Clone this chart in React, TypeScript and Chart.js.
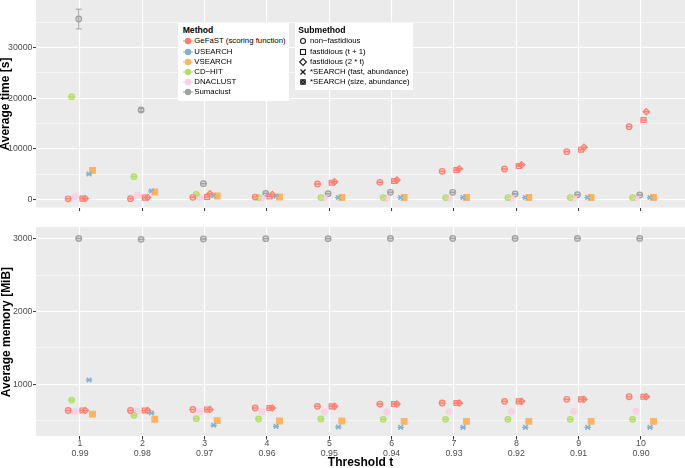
import React, { useEffect, useRef } from "react";
import { Chart, registerables } from "chart.js";
Chart.register(...registerables);

// ---------------- data ----------------
const categories = [1, 2, 3, 4, 5, 6, 7, 8, 9, 10];
const thresholds = ["0.99", "0.98", "0.97", "0.96", "0.95", "0.94", "0.93", "0.92", "0.91", "0.90"];

const timeTicks = [0, 10000, 20000, 30000];
const timeMinorTicks = [5000, 15000, 25000, 35000];
const memTicks = [1000, 2000, 3000];
const memMinorTicks = [500, 1500, 2500];

// Average time [s]
const gefastTimeNF = [100, 120, 395, 450, 3020, 3360, 5530, 5990, 9410, 14350];
const gefastTimeT1 = [120, 320, 450, 550, 3280, 3620, 5790, 6580, 9800, 15670];
const gefastTime2t = [150, 350, 1100, 950, 3480, 3810, 6050, 6840, 10270, 17310];
const cdhitTime = [20280, 4470, 950, 350, 350, 350, 350, 350, 350, 350];
const dnaclustTime = [520, 850, 390, 250, 250, 200, 200, 200, 200, 200];
const sumaclustTime = [35630, 17650, 3085, 1180, 1110, 1380, 1380, 1050, 900, 850];
const sumaclustTimeErr = [1950, 300, 0, 0, 0, 0, 0, 0, 0, 0];
const usearchTime = [5000, 1640, 710, 600, 350, 350, 350, 350, 350, 350];
const vsearchTime = [5730, 1440, 650, 450, 350, 350, 350, 350, 350, 350];

// Average memory [MiB]
const gefastMemNF = [640, 640, 654, 674, 697, 729, 743, 766, 794, 829];
const gefastMemT1 = [640, 640, 654, 674, 697, 729, 743, 766, 794, 829];
const gefastMem2t = [640, 640, 654, 674, 697, 729, 743, 766, 794, 829];
const cdhitMem = [784, 574, 527, 523, 523, 519, 519, 519, 519, 519];
const dnaclustMem = [627, 627, 627, 623, 620, 619, 623, 623, 628, 628];
const sumaclustMem = [3008, 2995, 3000, 3005, 3005, 3008, 3008, 3008, 3008, 3008];
const usearchMem = [1059, 605, 436, 422, 413, 408, 408, 408, 408, 408];
const vsearchMem = [591, 519, 500, 495, 495, 491, 491, 491, 491, 491];

const methodNames = ["GeFaST (scoring function)", "USEARCH", "VSEARCH", "CD\u2212HIT", "DNACLUST", "Sumaclust"];
const submethodNames = [
  "non\u2212fastidious",
  "fastidious (t + 1)",
  "fastidious (2 * t)",
  "*SEARCH (fast, abundance)",
  "*SEARCH (size, abundance)",
];

// ---------------- styles ----------------
const COLORS: Record<string, string> = {
  gefast: "#FB8072",
  usearch: "#80B1D3",
  vsearch: "#FDB462",
  cdhit: "#B3DE69",
  dnaclust: "#FCCDE5",
  sumaclust: "#A0A0A0",
};
const methodColors = [COLORS.gefast, COLORS.usearch, COLORS.vsearch, COLORS.cdhit, COLORS.dnaclust, COLORS.sumaclust];

type SeriesDef = {
  key: string;
  color: string;
  shape: string;
  offset: number;
  time: number[];
  mem: number[];
  timeErr?: number[];
};

const seriesDefs: SeriesDef[] = [
  { key: "gefast-nf", color: COLORS.gefast, shape: "circle", offset: -0.19, time: gefastTimeNF, mem: gefastMemNF },
  { key: "cdhit", color: COLORS.cdhit, shape: "circle", offset: -0.135, time: cdhitTime, mem: cdhitMem },
  { key: "dnaclust", color: COLORS.dnaclust, shape: "circle", offset: -0.08, time: dnaclustTime, mem: dnaclustMem },
  { key: "sumaclust", color: COLORS.sumaclust, shape: "circle", offset: -0.02, time: sumaclustTime, mem: sumaclustMem, timeErr: sumaclustTimeErr },
  { key: "gefast-t1", color: COLORS.gefast, shape: "rect", offset: 0.04, time: gefastTimeT1, mem: gefastMemT1 },
  { key: "gefast-2t", color: COLORS.gefast, shape: "rectRot", offset: 0.085, time: gefastTime2t, mem: gefastMem2t },
  { key: "usearch", color: COLORS.usearch, shape: "crossRot", offset: 0.145, time: usearchTime, mem: usearchMem },
  { key: "vsearch", color: COLORS.vsearch, shape: "rect", offset: 0.2, time: vsearchTime, mem: vsearchMem },
];

function hexA(hex: string, a: number) {
  const n = parseInt(hex.slice(1), 16);
  return `rgba(${(n >> 16) & 255},${(n >> 8) & 255},${n & 255},${a})`;
}

function makeDatasets(kind: "time" | "mem") {
  return seriesDefs.map((s) => {
    const vals = kind === "time" ? s.time : s.mem;
    const errs = kind === "time" && s.timeErr ? s.timeErr : [];
    const filled = s.key === "vsearch";
    const light = s.key === "dnaclust" || s.key === "cdhit";
    return {
      label: s.key,
      data: categories.map((c, i) => ({ x: c + s.offset, y: vals[i] })),
      errs,
      pointStyle: s.shape,
      pointRadius: s.shape === "circle" ? 2.8 : s.shape === "crossRot" ? 3.2 : filled ? 4 : s.shape === "rectRot" ? 3.2 : 3.5,
      pointBorderWidth: s.shape === "crossRot" ? 1.5 : 1.2,
      pointBorderColor: s.color,
      pointBackgroundColor: filled ? s.color : hexA(s.color, light ? 0.6 : 0.35),
      showLine: false,
    };
  });
}

const FONT = '"Liberation Sans", Arial, Helvetica, sans-serif';

const panelPlugin = {
  id: "panelBg",
  beforeDraw(chart: any) {
    const { ctx, chartArea: a } = chart;
    ctx.save();
    ctx.fillStyle = "#EBEBEB";
    ctx.fillRect(a.left, a.top, a.right - a.left, a.bottom - a.top);
    ctx.restore();
  },
  afterDatasetsDraw(chart: any) {
    const { ctx } = chart;
    const ys = chart.scales.y;
    ctx.save();
    chart.data.datasets.forEach((ds: any, di: number) => {
      const meta = chart.getDatasetMeta(di);
      const errs: number[] = ds.errs || [];
      meta.data.forEach((pt: any, i: number) => {
        const v = ds.data[i].y;
        const e = errs[i] || 0;
        const top = ys.getPixelForValue(v + e);
        const bot = ys.getPixelForValue(v - e);
        const w = 3;
        ctx.strokeStyle = ds.pointBorderColor;
        ctx.lineWidth = 1;
        ctx.beginPath();
        ctx.moveTo(pt.x, top);
        ctx.lineTo(pt.x, bot);
        ctx.moveTo(pt.x - w, top);
        ctx.lineTo(pt.x + w, top);
        ctx.moveTo(pt.x - w, bot);
        ctx.lineTo(pt.x + w, bot);
        ctx.stroke();
      });
    });
    ctx.restore();
  },
};

function yScale(min: number, max: number, major: number[], minor: number[]) {
  const all = [...major, ...minor].sort((a, b) => a - b);
  const isMajor = (v: number) => major.includes(v);
  return {
    type: "linear",
    min,
    max,
    afterBuildTicks: (s: any) => {
      s.ticks = all.map((v) => ({ value: v }));
    },
    afterFit: (s: any) => {
      s.width = 36;
      s.paddingTop = 0;
      s.paddingBottom = 0;
      s.paddingLeft = 0;
      s.paddingRight = 0;
    },
    border: { display: false },
    grid: {
      color: "#FFFFFF",
      lineWidth: (ctx: any) => (ctx.tick && isMajor(ctx.tick.value) ? 1.1 : 0.55),
      drawTicks: true,
      tickLength: 3,
      tickWidth: 1,
      tickColor: (ctx: any) => (ctx.tick && isMajor(ctx.tick.value) ? "#333333" : "rgba(0,0,0,0)"),
    },
    ticks: {
      autoSkip: false,
      padding: 0.5,
      color: "#4D4D4D",
      font: { family: FONT, size: 8.8 },
      callback: (v: any) => (isMajor(Number(v)) ? String(v) : ""),
    },
  };
}

function xScale(height: number, withLabels: boolean) {
  return {
    type: "linear",
    min: 0.294,
    max: 10.706,
    afterBuildTicks: (s: any) => {
      s.ticks = categories.map((c) => ({ value: c }));
    },
    afterFit: (s: any) => {
      s.height = height;
      s.paddingTop = 0;
      s.paddingBottom = 0;
      s.paddingLeft = 0;
      s.paddingRight = 0;
    },
    border: { display: false },
    grid: {
      color: "#FFFFFF",
      lineWidth: 1.1,
      drawTicks: true,
      tickLength: 3.5,
      tickWidth: 1,
      tickColor: "#333333",
    },
    ticks: {
      autoSkip: false,
      maxRotation: 0,
      padding: -1,
      color: "#4D4D4D",
      font: { family: FONT, size: 8.8, lineHeight: 1.12 },
      callback: (v: any) => {
        if (!withLabels) return "";
        const n = Number(v);
        const i = categories.indexOf(n);
        return i >= 0 ? [String(n), thresholds[i]] : "";
      },
    },
  };
}

function PanelChart(props: {
  kind: "time" | "mem";
  width: number;
  height: number;
  top: number;
  padTop: number;
  xHeight: number;
  withLabels: boolean;
  ymin: number;
  ymax: number;
  major: number[];
  minor: number[];
}) {
  const ref = useRef<HTMLCanvasElement | null>(null);
  useEffect(() => {
    if (!ref.current) return;
    const chart = new Chart(ref.current, {
      type: "scatter",
      data: { datasets: makeDatasets(props.kind) as any },
      options: {
        responsive: false,
        animation: false,
        events: [],
        layout: { autoPadding: false, padding: { top: props.padTop, left: 0, right: 0, bottom: 0 } },
        plugins: { legend: { display: false }, tooltip: { enabled: false }, title: { display: false } },
        scales: {
          x: xScale(props.xHeight, props.withLabels) as any,
          y: yScale(props.ymin, props.ymax, props.major, props.minor) as any,
        },
      } as any,
      plugins: [panelPlugin as any],
    });
    return () => chart.destroy();
  }, []);
  return (
    <canvas
      ref={ref}
      width={props.width}
      height={props.height}
      style={{ position: "absolute", left: 0, top: props.top, width: props.width, height: props.height, display: "block" }}
    />
  );
}

function MethodKey({ color }: { color: string }) {
  return (
    <svg width={12} height={10} style={{ position: "absolute", left: 0, top: 0 }}>
      <line x1={1} y1={5} x2={11} y2={5} stroke={color} strokeWidth={1} />
      <circle cx={6} cy={5} r={3.2} fill={color} />
    </svg>
  );
}

function SubKey({ idx }: { idx: number }) {
  const c = "#1A1A1A";
  let shape: any = null;
  if (idx === 0) shape = <circle cx={5} cy={5} r={2.5} fill="none" stroke={c} strokeWidth={1.1} />;
  else if (idx === 1) shape = <rect x={2.5} y={2.5} width={5} height={5} fill="none" stroke={c} strokeWidth={1.1} />;
  else if (idx === 2) shape = <polygon points="5,1.6 8.4,5 5,8.4 1.6,5" fill="none" stroke={c} strokeWidth={1.1} />;
  else if (idx === 3)
    shape = (
      <g stroke={c} strokeWidth={1.2}>
        <line x1={2.5} y1={2.5} x2={7.5} y2={7.5} />
        <line x1={7.5} y1={2.5} x2={2.5} y2={7.5} />
      </g>
    );
  else
    shape = (
      <g>
        <rect x={2.2} y={2.2} width={5.6} height={5.6} fill={c} />
        <g stroke="#888" strokeWidth={0.6}>
          <line x1={2.5} y1={2.5} x2={7.5} y2={7.5} />
          <line x1={7.5} y1={2.5} x2={2.5} y2={7.5} />
        </g>
      </g>
    );
  return (
    <svg width={10} height={10} style={{ position: "absolute", left: 0, top: 0 }}>
      {shape}
    </svg>
  );
}

export default function App() {
  const textStyle: React.CSSProperties = {
    position: "absolute",
    fontFamily: FONT,
    fontSize: 7.8,
    lineHeight: "10px",
    height: 10,
    whiteSpace: "nowrap",
    color: "#000",
  };
  const rowCenters = [41.3, 51.6, 61.8, 72.0, 82.2, 92.3];
  return (
    <div
      style={{
        position: "absolute",
        left: 0,
        top: 0,
        width: 685,
        height: 468,
        background: "#FFFFFF",
        overflow: "hidden",
      }}
    >
      <PanelChart
        kind="time"
        width={685}
        height={218}
        top={0}
        padTop={0}
        xHeight={10.5}
        withLabels={false}
        ymin={-1620}
        ymax={39390}
        major={timeTicks}
        minor={timeMinorTicks}
      />
      <PanelChart
        kind="mem"
        width={685}
        height={248}
        top={220}
        padTop={7}
        xHeight={32}
        withLabels={true}
        ymin={289}
        ymax={3165}
        major={memTicks}
        minor={memMinorTicks}
      />

      {/* axis titles */}
      <div
        style={{
          position: "absolute",
          left: 5 - 207.5 / 2,
          top: 103.75 - 6,
          width: 207.5,
          height: 12,
          lineHeight: "12px",
          textAlign: "center",
          transform: "rotate(-90deg)",
          fontFamily: FONT,
          fontWeight: "bold",
          fontSize: 12,
          color: "#000",
          whiteSpace: "nowrap",
        }}
      >
        Average time [s]
      </div>
      <div
        style={{
          position: "absolute",
          left: 5 - 209 / 2,
          top: 331.5 - 6,
          width: 209,
          height: 12,
          lineHeight: "12px",
          textAlign: "center",
          transform: "rotate(-90deg)",
          fontFamily: FONT,
          fontWeight: "bold",
          fontSize: 12,
          color: "#000",
          whiteSpace: "nowrap",
        }}
      >
        Average memory [MiB]
      </div>
      <div
        style={{
          position: "absolute",
          left: 36,
          width: 649,
          top: 456,
          height: 12,
          lineHeight: "12px",
          textAlign: "center",
          fontFamily: FONT,
          fontWeight: "bold",
          fontSize: 12,
          color: "#000",
        }}
      >
        Threshold t
      </div>

      {/* Method legend */}
      <div style={{ position: "absolute", left: 177.5, top: 23.3, width: 111, height: 77.5, background: "#FFFFFF" }} />
      <div style={{ ...textStyle, left: 182.7, top: 25, fontWeight: "bold", fontSize: 8.6 }}>Method</div>
      {methodNames.map((m, i) => (
        <div key={m} style={{ position: "absolute", left: 181.7, top: rowCenters[i] - 5, width: 12, height: 10 }}>
          <MethodKey color={methodColors[i]} />
        </div>
      ))}
      {methodNames.map((m, i) => (
        <div key={m + "t"} style={{ ...textStyle, left: 194.3, top: rowCenters[i] - 5 }}>
          {m}
        </div>
      ))}

      {/* Submethod legend */}
      <div style={{ position: "absolute", left: 294.5, top: 23.3, width: 118, height: 67, background: "#FFFFFF" }} />
      <div style={{ ...textStyle, left: 298.3, top: 25, fontWeight: "bold", fontSize: 8.6 }}>Submethod</div>
      {submethodNames.map((m, i) => (
        <div key={m} style={{ position: "absolute", left: 298, top: rowCenters[i] - 5, width: 10, height: 10 }}>
          <SubKey idx={i} />
        </div>
      ))}
      {submethodNames.map((m, i) => (
        <div key={m + "t"} style={{ ...textStyle, left: 310, top: rowCenters[i] - 5 }}>
          {m}
        </div>
      ))}
    </div>
  );
}
